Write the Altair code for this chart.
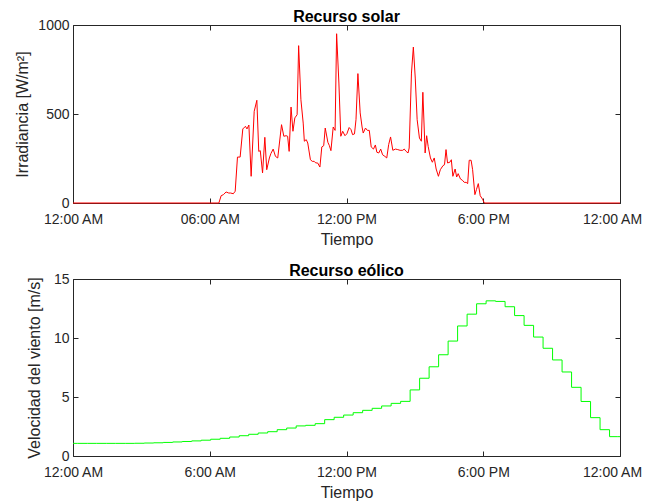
import altair as alt
import pandas as pd

# ---------------- data ----------------
solar_minutes = [0, 384, 390, 396, 403, 410, 415, 422, 427, 433, 440, 447, 454, 458, 463, 469,
                 477, 484, 489, 493, 499, 505, 510, 517, 521, 527, 533, 539, 549, 555, 561, 565,
                 569, 574, 579, 584, 590, 594, 600, 606, 609, 614, 618, 625, 630, 635, 639, 644,
                 650, 655, 660, 664, 671, 675, 679, 685, 690, 694, 700, 705, 710, 716, 721, 727,
                 732, 736, 741, 745, 750, 756, 761, 764, 770, 775, 780, 785, 791, 796, 800, 805,
                 810, 815, 821, 826, 831, 836, 842, 849, 855, 861, 868, 872, 877, 882, 885, 891,
                 896, 901, 906, 912, 917, 921, 927, 931, 935, 941, 946, 951, 956, 962, 967, 974,
                 978, 982, 986, 992, 996, 1000, 1006, 1010, 1014, 1020, 1025, 1030, 1035, 1039,
                 1043, 1048, 1052, 1058, 1062, 1067, 1072, 1078, 1083, 1440]
solar_values = [0, 0, 41, 47, 62, 56, 56, 52, 66, 258, 258, 416, 431, 416, 438, 150,
                515, 577, 290, 294, 169, 369, 187, 253, 278, 303, 262, 253, 440, 375, 378, 375,
                290, 539, 403, 478, 496, 884, 580, 449, 347, 356, 337, 243, 234, 234, 225, 225,
                202, 315, 322, 421, 341, 322, 294, 427, 408, 951, 674, 375, 403, 378, 389, 424,
                412, 384, 388, 468, 727, 506, 427, 393, 421, 408, 408, 315, 303, 326, 285, 281,
                303, 271, 262, 253, 328, 371, 296, 303, 300, 296, 296, 303, 290, 281, 309, 730,
                876, 702, 468, 365, 347, 622, 281, 378, 318, 253, 229, 253, 191, 150, 187, 210,
                215, 300, 225, 229, 243, 150, 191, 146, 165, 135, 128, 116, 116, 109,
                240, 240, 187, 47, 75, 109, 41, 22, 0, 0]

wind_minutes = [0, 25, 50, 75, 100, 125, 150, 175, 200, 225, 250, 275, 300, 325, 350, 375,
                400, 425, 450, 475, 500, 525, 550, 575, 600, 625, 650, 675, 700, 725, 750, 775,
                800, 825, 850, 875, 900, 925, 950, 975, 1000, 1025, 1050, 1075, 1100, 1125,
                1150, 1175, 1200, 1225, 1250, 1275, 1300, 1325, 1350, 1375, 1400, 1425, 1440]
wind_values = [1.07, 1.07, 1.07, 1.07, 1.07, 1.07, 1.07, 1.08, 1.10, 1.12, 1.15, 1.19, 1.23,
               1.28, 1.34, 1.42, 1.50, 1.61, 1.72, 1.84, 1.95, 2.06, 2.23, 2.37, 2.55, 2.60,
               2.74, 3.08, 3.28, 3.47, 3.67, 3.87, 4.04, 4.24, 4.46, 4.63, 5.60, 6.59, 7.56,
               8.58, 9.74, 11.02, 12.02, 12.90, 13.15, 13.10, 12.65, 11.90, 11.07, 10.08, 9.13,
               8.14, 7.12, 5.82, 4.62, 3.25, 2.23, 1.64, 1.64]

x_tick_hours = [0, 6, 12, 18, 24]
top_tick_labels = ["12:00 AM", "06:00 AM", "12:00 PM", "6:00 PM", "12:00 AM"]
bottom_tick_labels = ["12:00 AM", "6:00 AM", "12:00 PM", "6:00 PM", "12:00 AM"]
solar_y_ticks = [0, 500, 1000]
wind_y_ticks = [0, 5, 10, 15]

FONT = "Liberation Sans"
TXT = "#262626"

solar_df = pd.DataFrame({"hora": [m / 60 for m in solar_minutes], "valor": solar_values})
wind_df = pd.DataFrame({"hora": [m / 60 for m in wind_minutes], "valor": wind_values})


def label_expr(values, labels):
    parts = [f"datum.value == {v} ? '{l}'" for v, l in zip(values, labels)]
    return " : ".join(parts) + " : ''"


last_hour = x_tick_hours[-1]


def panel(df, color, title, ytitle, yticks, ymax, xlabels, ytitle_pad, interp, h):
    xs = alt.Scale(domain=[0, 24], nice=False, zero=False)
    ys = alt.Scale(domain=[0, ymax], nice=False)
    main = alt.Chart(df).mark_line(color=color, strokeWidth=1, interpolate=interp).encode(
        x=alt.X("hora:Q", scale=xs,
                axis=alt.Axis(orient="bottom", values=x_tick_hours,
                              labelExpr=label_expr(x_tick_hours, xlabels),
                              labelOffset={"condition": {"test": f"datum.value == {last_hour}",
                                                         "value": -8},
                                           "value": 0},
                              tickSize=5, offset=-5, domain=False, grid=False,
                              labelPadding=9, labelFlush=False, labelOverlap=False,
                              title="Tiempo", titlePadding=5)),
        y=alt.Y("valor:Q", scale=ys,
                axis=alt.Axis(orient="left", values=yticks, format="d", tickSize=5, offset=-5,
                              domain=False, grid=False, labelPadding=4,
                              title=ytitle, titlePadding=ytitle_pad)),
    )
    mirror = alt.Chart(df).mark_line(strokeOpacity=0, interpolate=interp).encode(
        x=alt.X("hora:Q", scale=xs,
                axis=alt.Axis(orient="top", values=x_tick_hours, tickSize=5, offset=-5,
                              labels=False, domain=False, grid=False, title=None)),
        y=alt.Y("valor:Q", scale=ys,
                axis=alt.Axis(orient="right", values=yticks, tickSize=5, offset=-5,
                              labels=False, domain=False, grid=False, title=None)),
    )
    return alt.layer(main, mirror).properties(
        width=547, height=h,
        title=alt.TitleParams(title, offset=-7, frame="group"),
    )


top = panel(solar_df, "#ff0000", "Recurso solar", "Irradiancia [W/m²]",
            solar_y_ticks, 1000, top_tick_labels, 7, "linear", 178)
bottom = panel(wind_df, "#00ff00", "Recurso eólico", "Velocidad del viento [m/s]",
               wind_y_ticks, 15, bottom_tick_labels, 11, "step", 177)

chart = alt.vconcat(top, bottom, spacing=14).properties(
    padding={"left": 6, "top": 0, "right": 0, "bottom": 0},
    background="white",
).configure_view(
    stroke=TXT, strokeWidth=1
).configure_axis(
    labelFont=FONT, titleFont=FONT, labelFontSize=14, titleFontSize=16,
    labelColor=TXT, titleColor=TXT, tickColor=TXT, titleFontWeight="normal",
).configure_title(
    font=FONT, fontSize=16, fontWeight="bold", color="black", anchor="middle"
)

chart.save("out.html", embed_options={"renderer": "svg", "actions": False})
